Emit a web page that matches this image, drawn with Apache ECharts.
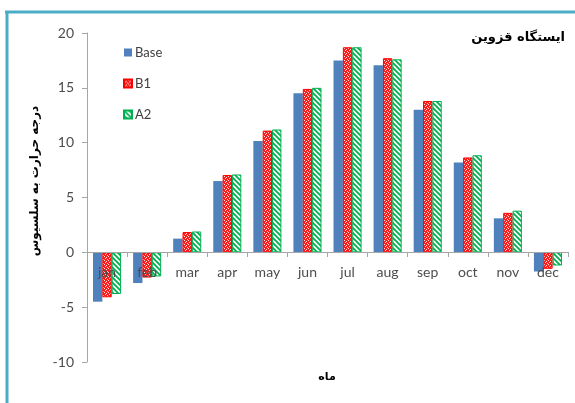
<!DOCTYPE html>
<html><head><meta charset="utf-8">
<script src="https://cdn.jsdelivr.net/npm/echarts@6/dist/echarts.min.js"></script>
<style>html,body{margin:0;padding:0;background:#fff}#c{width:575px;height:403px}</style>
</head><body><div id="c"></div>
<script>
var categories = ['jan','feb','mar','apr','may','jun','jul','aug','sep','oct','nov','dec'];
var baseVals = [-4.5,-2.8,1.25,6.5,10.15,14.5,17.5,17.05,13.0,8.2,3.1,-1.75];
var b1Vals   = [-4.1,-2.3,1.85,7.05,11.1,14.9,18.7,17.7,13.8,8.65,3.6,-1.5];
var a2Vals   = [-3.8,-2.2,1.9,7.1,11.2,15.0,18.7,17.6,13.8,8.85,3.8,-1.2];
var yTicks = [-10,-5,0,5,10,15,20];
var seriesNames = ['Base','B1','A2'];
var titleText = 'ایستگاه قزوین';
var yName = 'درجه حرارت به سلسیوس';
var xName = 'ماه';

function redPattern(){
  var c=document.createElement('canvas'); c.width=4; c.height=4;
  var g=c.getContext('2d');
  g.fillStyle='#ff1a1a'; g.fillRect(0,0,4,4);
  g.fillStyle='rgba(255,255,255,0.85)';
  g.fillRect(0,0,1,1); g.fillRect(2,1,1,1); g.fillRect(1,2,1,1); g.fillRect(3,3,1,1);
  return {image:c, repeat:'repeat'};
}
function greenPattern(){
  var c=document.createElement('canvas'); c.width=5; c.height=5;
  var g=c.getContext('2d');
  g.fillStyle='#ffffff'; g.fillRect(0,0,5,5);
  g.strokeStyle='#00b050'; g.lineWidth=1.8;
  g.beginPath();
  g.moveTo(-1,-1); g.lineTo(6,6);
  g.moveTo(-6,-1); g.lineTo(1,6);
  g.moveTo(4,-1); g.lineTo(11,6);
  g.stroke();
  return {image:c, repeat:'repeat'};
}

var chart = echarts.init(document.getElementById('c'));
var font = 'Lato, "Open Sans", sans-serif';
chart.setOption({
  animation:false,
  backgroundColor:'#fff',
  grid:{left:87, right:7, top:33, bottom:41},
  legend:{
    orient:'vertical', left:118, top:41, itemWidth:8, itemHeight:8, itemGap:18, icon:'rect',
    data:seriesNames,
    textStyle:{fontFamily:font, fontSize:13, color:'#404040', padding:[0,0,0,-2]}
  },
  xAxis:{
    type:'category', data:categories, position:'bottom', offset:-110, z:10,
    axisLine:{onZero:false, lineStyle:{color:'#a6a6a6'}},
    axisTick:{show:true, length:5, lineStyle:{color:'#a6a6a6'}},
    axisLabel:{fontFamily:font, fontSize:14, color:'#4d4d4d', margin:13}
  },
  yAxis:{
    type:'value', min:-10, max:20, interval:5,
    axisLine:{show:true, lineStyle:{color:'#a6a6a6'}},
    axisTick:{show:true, length:5, lineStyle:{color:'#a6a6a6'}},
    splitLine:{show:false},
    axisLabel:{fontFamily:font, fontSize:14, color:'#4d4d4d', margin:13,
      formatter:function(v){return yTicks.indexOf(v)>=0 ? String(v) : '';}}
  },
  series:[
    {name:seriesNames[0], type:'bar', data:baseVals, barGap:'0%', barCategoryGap:'30%',
     itemStyle:{color:'#4f81bd'}},
    {name:seriesNames[1], type:'bar', data:b1Vals, barGap:'0%', barCategoryGap:'30%',
     itemStyle:{color:redPattern(), borderColor:'#ff0000', borderWidth:1}},
    {name:seriesNames[2], type:'bar', data:a2Vals, barGap:'0%', barCategoryGap:'30%',
     itemStyle:{color:greenPattern(), borderColor:'#00b050', borderWidth:1}}
  ],
  graphic:[
    {type:'line', shape:{x1:5, y1:12, x2:575, y2:12}, style:{stroke:'#4bacc6', lineWidth:3}, silent:true},
    {type:'line', shape:{x1:7, y1:11, x2:7, y2:403}, style:{stroke:'#4bacc6', lineWidth:3}, silent:true},
    {type:'text', right:10, top:31, style:{text:titleText, font:'bold 13px "DejaVu Sans", sans-serif', fill:'#000'}},
    {type:'text', x:327, y:377, style:{text:xName, font:'bold 11px "DejaVu Sans", sans-serif', fill:'#000', align:'center', verticalAlign:'middle'}},
    {type:'text', x:35, y:181, rotation:Math.PI/2, style:{text:yName, font:'bold 12px "DejaVu Sans", sans-serif', fill:'#000', align:'center', verticalAlign:'middle'}}
  ]
});
</script></body></html>
